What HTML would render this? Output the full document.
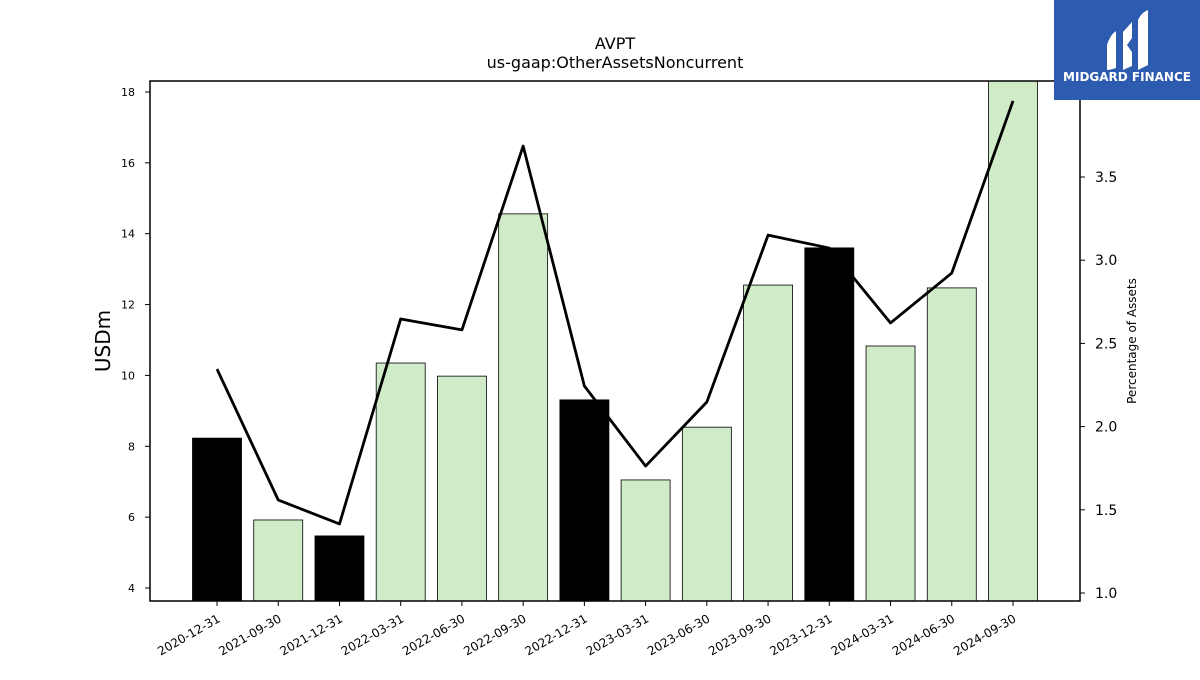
<!DOCTYPE html>
<html><head><meta charset="utf-8"><style>
body{margin:0;background:#fff;}
svg text{font-family:"DejaVu Sans","Liberation Sans",sans-serif;}
</style></head><body>
<svg id="chart" width="1200" height="675" viewBox="0 0 1200 675" xmlns="http://www.w3.org/2000/svg">
<text x="615" y="49" font-size="16" text-anchor="middle">AVPT</text>
<text x="615" y="68" font-size="16" text-anchor="middle">us-gaap:OtherAssetsNoncurrent</text>
<g id="plot"></g>
<text transform="translate(110,341) rotate(-90)" font-size="20" text-anchor="middle">USDm</text>
<text transform="translate(1136,341) rotate(-90)" font-size="12" text-anchor="middle">Percentage of Assets</text>
<g>
<rect x="1054" y="0" width="146" height="100" fill="#2d5bb0"/>
<path d="M1107,45 Q1110,35 1116,31 L1116,68 Q1110,70 1107,70 Z" fill="#fff"/>
<path d="M1123,32 L1132,22 L1132,38 L1127,45 L1132,52 L1132,66 L1123,70 Z" fill="#fff"/>
<path d="M1138,20 Q1142,12 1148,10 L1148,65 L1138,70 Z" fill="#fff"/>
<text x="1127" y="81" font-size="12" font-weight="bold" fill="#fff" text-anchor="middle">MIDGARD FINANCE</text>
</g>
</svg>
<script>
const categories=["2020-12-31","2021-09-30","2021-12-31","2022-03-31","2022-06-30","2022-09-30","2022-12-31","2023-03-31","2023-06-30","2023-09-30","2023-12-31","2024-03-31","2024-06-30","2024-09-30"];
const barValues=[8.23,5.92,5.47,10.35,9.98,14.56,9.31,7.05,8.54,12.55,13.60,10.83,12.47,18.5];
const pctValues=[2.346,1.559,1.415,2.647,2.581,3.686,2.244,1.763,2.148,3.151,3.073,2.623,2.923,3.957];
const leftTicks=[4,6,8,10,12,14,16,18];
const rightTicks=[1.0,1.5,2.0,2.5,3.0,3.5];
const NS="http://www.w3.org/2000/svg";
const L=150,R=1080,T=81,B=601;
const yMin=3.633,yMax=18.31,y2Min=0.952,y2Max=4.077;
const y=v=>B-(v-yMin)/(yMax-yMin)*(B-T);
const y2=v=>B-(v-y2Min)/(y2Max-y2Min)*(B-T);
const x0=217,step=(1013-217)/13;
const x=i=>x0+i*step;
const g=document.getElementById('plot');
function mk(t,a){const e=document.createElementNS(NS,t);for(const k in a)e.setAttribute(k,a[k]);g.appendChild(e);return e;}
const clip=mk('clipPath',{id:'pc'});
const cr=document.createElementNS(NS,'rect');cr.setAttribute('x',L);cr.setAttribute('y',T);cr.setAttribute('width',R-L);cr.setAttribute('height',B-T);clip.appendChild(cr);
barValues.forEach((v,i)=>{
 const dark=categories[i].endsWith('12-31');
 const r=mk('rect',{x:x(i)-24.5,y:y(v),width:49,height:B-y(v),fill:dark?'#000':'#d0ebc8',stroke:'#000','stroke-width':0.8,'clip-path':'url(#pc)'});
 
 
});
const ln=mk('polyline',{points:pctValues.map((v,i)=>x(i)+','+y2(v)).join(' '),fill:'none',stroke:'#000','stroke-width':2.8,'stroke-linejoin':'round'});


const fr=mk('rect',{x:L,y:T,width:R-L,height:B-T,fill:'none',stroke:'#000','stroke-width':1.5});


leftTicks.forEach(t=>{
 mk('line',{x1:L-5,x2:L,y1:y(t),y2:y(t),stroke:'#000'});
 const tx=mk('text',{x:L-15,y:y(t)+4,'font-size':11,'text-anchor':'end'});tx.textContent=t;
 
 
});
rightTicks.forEach(t=>{
 mk('line',{x1:R,x2:R+5,y1:y2(t),y2:y2(t),stroke:'#000'});
 const tx=mk('text',{x:R+15,y:y2(t)+5,'font-size':14});tx.textContent=t.toFixed(1);
 
 
});
categories.forEach((c,i)=>{
 mk('line',{x1:x(i),x2:x(i),y1:B,y2:B+5,stroke:'#000'});
 const tx=mk('text',{transform:`translate(${x(i)+4},${B+20}) rotate(-30)`,'font-size':12,'text-anchor':'end'});tx.textContent=c;
 
 
});
</script>
</body></html>
